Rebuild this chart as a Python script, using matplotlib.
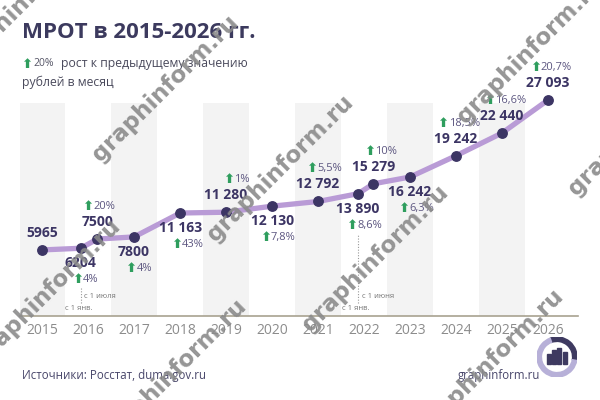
import matplotlib
matplotlib.use('Agg')
import matplotlib.pyplot as plt
from matplotlib.offsetbox import TextArea, HPacker, AnnotationBbox
from matplotlib.patches import Wedge, Rectangle
import matplotlib.transforms as mtransforms

plt.rcParams['font.family'] = ['Open Sans', 'DejaVu Sans']

# data: МРОТ, рублей в месяц
years = list(range(2015, 2027))
point_x = [2015, 2015.84, 2016.2, 2017, 2018, 2019, 2020, 2021, 2021.87, 2022.2,
           2023, 2024, 2025, 2026]
values = [5965, 6204, 7500, 7800, 11163, 11280, 12130, 12792, 13890, 15279,
          16242, 19242, 22440, 27093]
growth = [None, '4%', '20%', '4%', '43%', '1%', '7,8%', '5,5%', '8,6%', '10%',
          '6,3%', '18,5%', '16,6%', '20,7%']
sides = ['above', 'below', 'above', 'below', 'below', 'above', 'below', 'above',
         'below', 'above', 'below', 'above', 'above', 'above']
note_points = [1, 8]
note_texts = ['с 1 июля', 'с 1 июня']

DARK = '#3c3564'
LINE = '#b99bd6'
GREEN = '#2f9e5e'
PCT = '#5c5680'
GRAY = '#8c8c8c'

fig = plt.figure(figsize=(6, 4), dpi=100)
ax = fig.add_axes([20/600, 0.21, 558/600, 0.64])
ax.set_xlim(2014.52, 2026.65)
ax.set_ylim(-3340, 32720)

# alternating bands
for i, y in enumerate(years):
    if i % 2 == 0:
        ax.axvspan(y - 0.5, y + 0.5, ymin=0, ymax=0.832, color='#f3f3f3', lw=0, zorder=0)

ax.plot(point_x, values, color=LINE, lw=3.8, zorder=2, solid_capstyle='round')
ax.plot(point_x, values, 'o', ms=6.8, color=DARK, zorder=3)

for x, v, g, s in zip(point_x, values, growth, sides):
    txt = f'{v:,}'.replace(',', ' ') if v >= 10000 else str(v)
    dy = 17 if s == 'above' else -15
    lab = ax.annotate(txt, (x, v), xytext=(0, dy), textcoords='offset pixels',
                      ha='center', va='center', fontsize=10, fontweight='bold',
                      color=DARK, zorder=4)
    if g is None:
        continue
    box = HPacker(children=[TextArea('⬆', textprops=dict(color=GREEN, fontsize=9.5,
                                                          fontweight='bold',
                                                          family=['DejaVu Sans'])),
                            TextArea(g, textprops=dict(color=PCT, fontsize=8))],
                  pad=0, sep=0, align='center')
    if s == 'above':
        ab = AnnotationBbox(box, (1, 1), xycoords=lab, xybox=(2, 2),
                            boxcoords='offset pixels', box_alignment=(1, 0),
                            frameon=False, pad=0)
    else:
        ab = AnnotationBbox(box, (1, 0), xycoords=lab, xybox=(2, -3),
                            boxcoords='offset pixels', box_alignment=(1, 1),
                            frameon=False, pad=0)
    ax.add_artist(ab)

# dotted markers for mid-year increases
blend = mtransforms.blended_transform_factory(ax.transData, ax.transAxes)
for idx, note in zip(note_points, note_texts):
    x, v = point_x[idx], values[idx]
    px, py = ax.transData.transform((x, v))
    top = ax.transAxes.inverted().transform((px, py - 40))[1]
    ax.plot([x, x], [0.05, top], transform=blend, color='#999999', lw=0.8,
            ls=(0, (1, 1.5)), zorder=1)
    ax.text(x + 0.08, 0.078, note, transform=blend, fontsize=5.5, color='#777777',
            ha='left', va='center')
    ax.text(x - 0.05, 0.031, 'с 1 янв.', transform=blend, fontsize=5.5,
            color='#777777', ha='center', va='center')

ax.set_xticks(years)
ax.set_xticklabels([str(y) for y in years], fontsize=10, color=GRAY)
ax.tick_params(axis='x', length=0, pad=5)
ax.set_yticks([])
for sp in ['left', 'right', 'top']:
    ax.spines[sp].set_visible(False)
ax.spines['bottom'].set_color('#a8a290')
ax.spines['bottom'].set_linewidth(1.2)
ax.set_facecolor('none')

# titles
fig.text(22/600, 1 - 32/400, 'МРОТ в 2015-2026 гг.', fontsize=16,
         fontweight='bold', color='#3c3a5e', va='center')
fig.text(21/600, 1 - 64/400, '⬆', fontsize=9.5, color=GREEN, va='center',
         fontweight='bold', family=['DejaVu Sans'])
fig.text(33/600, 1 - 64/400, '20%', fontsize=7.5, color='#555566', va='center')
fig.text(61/600, 1 - 64/400, 'рост к предыдущему значению', fontsize=8.8,
         color='#4a4a5c', va='center')
fig.text(22/600, 1 - 82/400, 'рублей в месяц', fontsize=8.8, color='#4a4a5c',
         va='center')

# footer
fig.text(22/600, 1 - 375/400, 'Источники: Росстат, duma.gov.ru', fontsize=8.3,
         color='#48466a', va='center')
fig.text(540/600, 1 - 375/400, 'graphinform.ru', fontsize=8.3, color='#48466a',
         va='center', ha='right')

# logo
lax = fig.add_axes([537/600, 1 - 377/400, 40/600, 40/400])
lax.set_xlim(-1, 1)
lax.set_ylim(-1, 1)
lax.axis('off')
lax.add_patch(Wedge((0, 0), 1, -10, 110, width=0.22, color='#3e3a60'))
lax.add_patch(Wedge((0, 0), 1, 110, 350, width=0.22, color='#b7b0d8'))
for bx, bh in zip([-0.5, -0.24, 0.02, 0.28], [0.5, 0.7, 0.8, 0.6]):
    lax.add_patch(Rectangle((bx, -0.35), 0.2, bh, color='#3e3a60'))

# watermarks
for cx, cy in [(25, 0), (165, 88), (280, 168), (375, 258), (530, 50), (47, 292),
               (173, 372), (490, 362), (641, 122)]:
    fig.text(cx/600, 1 - cy/400, 'graphinform.ru', fontsize=16.5, fontweight='bold',
             color='#8a8a8a', rotation=45, ha='center', va='center',
             rotation_mode='anchor', alpha=0.9, family=['DejaVu Sans'], zorder=10)

fig.savefig('out.png', dpi=100)
